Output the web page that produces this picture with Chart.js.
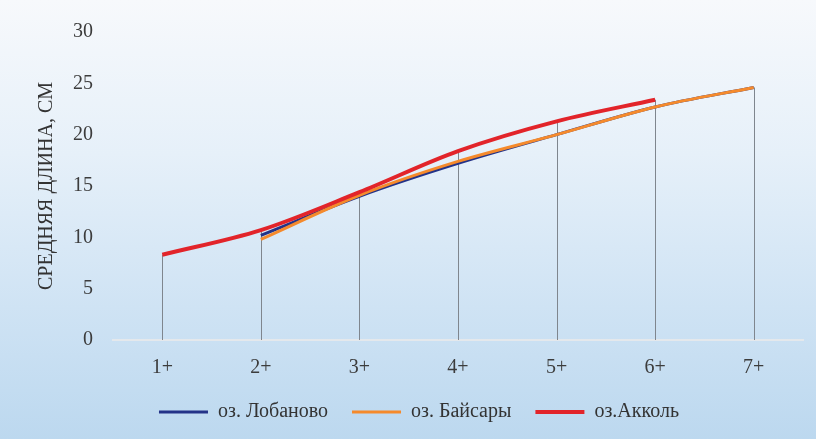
<!DOCTYPE html>
<html>
<head>
<meta charset="utf-8">
<script src="https://cdn.jsdelivr.net/npm/chart.js@4/dist/chart.umd.min.js"></script>
<style>
  html, body { margin: 0; padding: 0; }
  body {
    width: 816px; height: 439px; overflow: hidden;
    background: linear-gradient(to bottom, #f7f9fc 0%, #e6f0f9 35%, #cfe3f4 70%, #bcd8ef 100%);
  }
  #wrap { position: relative; width: 816px; height: 439px; }
</style>
</head>
<body>
<div id="wrap"><canvas id="c" width="816" height="439"></canvas></div>
<script>
// Age groups and mean fish length (cm) per lake
const ageGroups = ['1+', '2+', '3+', '4+', '5+', '6+', '7+'];
const lobanovo = [null, 10.2, 14.0, 17.2, 20.0, 22.7, 24.6];
const baysary  = [null, 9.8, 14.1, 17.4, 20.0, 22.7, 24.6];
const akkol    = [8.3, 10.7, 14.4, 18.4, 21.3, 23.4, null];
const yTicks = [0, 5, 10, 15, 20, 25, 30];

const serif = "'Liberation Serif', 'DejaVu Serif', serif";

// Vertical drop lines from the highest point of each age group down to the axis
const dropLines = {
  id: 'dropLines',
  beforeDatasetsDraw(chart) {
    const { ctx, scales: { x, y } } = chart;
    ctx.save();
    ctx.strokeStyle = '#7f868e';
    ctx.lineWidth = 1;
    ageGroups.forEach((g, i) => {
      const vals = chart.data.datasets.map(d => d.data[i]).filter(v => v != null);
      if (!vals.length) return;
      const top = Math.max(...vals);
      const px = Math.round(x.getPixelForValue(i)) + 0.5;
      ctx.beginPath();
      ctx.moveTo(px, y.getPixelForValue(top));
      ctx.lineTo(px, y.getPixelForValue(0));
      ctx.stroke();
    });
    ctx.restore();
  }
};

const lineDefaults = {
  pointRadius: 0,
  pointHoverRadius: 0,
  fill: false,
  spanGaps: false,
  cubicInterpolationMode: 'monotone',
  pointStyle: 'line'
};

new Chart(document.getElementById('c'), {
  type: 'line',
  data: {
    labels: ageGroups,
    datasets: [
      { ...lineDefaults, label: 'оз. Лобаново', data: lobanovo, borderColor: '#243388', backgroundColor: '#243388', borderWidth: 3, order: 2 },
      { ...lineDefaults, label: 'оз. Байсары', data: baysary, borderColor: '#f58a2c', backgroundColor: '#f58a2c', borderWidth: 3, order: 1 },
      { ...lineDefaults, label: 'оз.Акколь', data: akkol, borderColor: '#e2242a', backgroundColor: '#e2242a', borderWidth: 4, order: 0 }
    ]
  },
  options: {
    responsive: false,
    animation: false,
    devicePixelRatio: 1,
    layout: { padding: { top: 28, right: 13, bottom: 7, left: 35 } },
    plugins: {
      tooltip: { enabled: false },
      legend: {
        position: 'bottom',
        labels: {
          usePointStyle: true,
          pointStyle: 'line',
          pointStyleWidth: 49,
          boxWidth: 49,
          boxHeight: 3,
          padding: 24,
          color: '#333',
          font: { family: serif, size: 20 },
          sort: (a, b) => a.datasetIndex - b.datasetIndex
        }
      }
    },
    scales: {
      x: {
        offset: true,
        grid: { display: false, drawTicks: false },
        border: { display: true, color: '#e4e8ec', width: 2 },
        ticks: { color: '#3c3c3c', padding: 16, font: { family: serif, size: 20 } },
        afterFit(scale) { scale.height = 38; }
      },
      y: {
        min: 0,
        max: 30,
        afterBuildTicks(scale) { scale.ticks = yTicks.map(v => ({ value: v })); },
        grid: { display: false, drawTicks: false },
        border: { display: false },
        ticks: { color: '#3c3c3c', padding: 20, font: { family: serif, size: 20 } },
        title: {
          display: true,
          text: 'СРЕДНЯЯ ДЛИНА, СМ',
          color: '#333',
          font: { family: serif, size: 20 },
          padding: { top: 0, bottom: 0 }
        },
        afterFit(scale) { scale.width = 78; }
      }
    }
  },
  plugins: [dropLines]
});
</script>
</body>
</html>
